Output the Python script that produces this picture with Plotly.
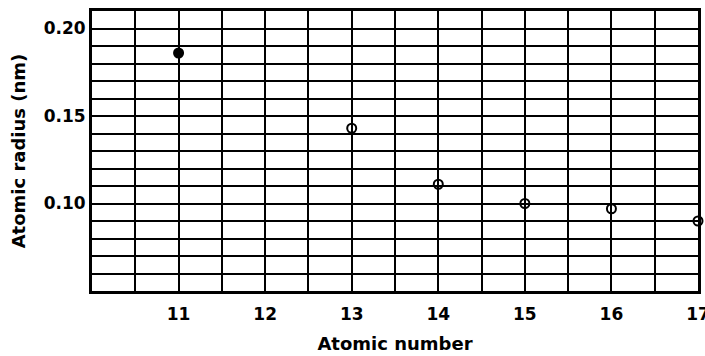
import plotly.graph_objects as go

atomic_number = [11, 13, 14, 15, 16, 17]
atomic_radius = [0.186, 0.143, 0.111, 0.100, 0.097, 0.090]
marker_symbols = ["circle", "circle-open", "circle-open", "circle-open", "circle-open", "circle-open"]

x_ticks = [11, 12, 13, 14, 15, 16, 17]
y_ticks = [0.10, 0.15, 0.20]
y_tick_labels = ["0.10", "0.15", "0.20"]

fig = go.Figure()
fig.add_trace(go.Scatter(
    x=atomic_number, y=atomic_radius, mode="markers",
    marker=dict(symbol=marker_symbols, size=9, color="black",
                line=dict(color="black", width=2)),
    showlegend=False, cliponaxis=False,
))

tick_font = dict(family="DejaVu Sans, sans-serif", size=17, color="black", weight="bold")
title_font = dict(family="DejaVu Sans, sans-serif", size=18, color="black", weight="bold")

fig.update_xaxes(
    range=[10, 17], tickvals=x_ticks, ticktext=[str(v) for v in x_ticks],
    showgrid=True, gridcolor="black", gridwidth=2,
    minor=dict(dtick=0.5, tick0=10, showgrid=True, gridcolor="black", gridwidth=2),
    showline=True, linecolor="black", linewidth=3, mirror=True,
    ticks="", tickfont=tick_font, ticklabelstandoff=6, zeroline=False,
    ticklabeloverflow="allow", automargin=False,
    title=dict(text="Atomic number", font=title_font, standoff=14),
)
fig.update_yaxes(
    range=[0.05, 0.21], tickvals=y_ticks, ticktext=y_tick_labels,
    showgrid=True, gridcolor="black", gridwidth=2,
    minor=dict(dtick=0.01, tick0=0.05, showgrid=True, gridcolor="black", gridwidth=2),
    showline=True, linecolor="black", linewidth=3, mirror=True,
    ticks="", tickfont=tick_font, ticklabelstandoff=0, zeroline=False, automargin=False,
    title=dict(text="Atomic radius (nm)", font=title_font, standoff=14),
)

fig.update_layout(
    width=705, height=356,
    margin=dict(l=92, r=7, t=11, b=65, autoexpand=False),
    plot_bgcolor="white", paper_bgcolor="white",
)

fig.write_html("out.html", config={"displayModeBar": False},
               post_script="document.body.style.margin='0';")
